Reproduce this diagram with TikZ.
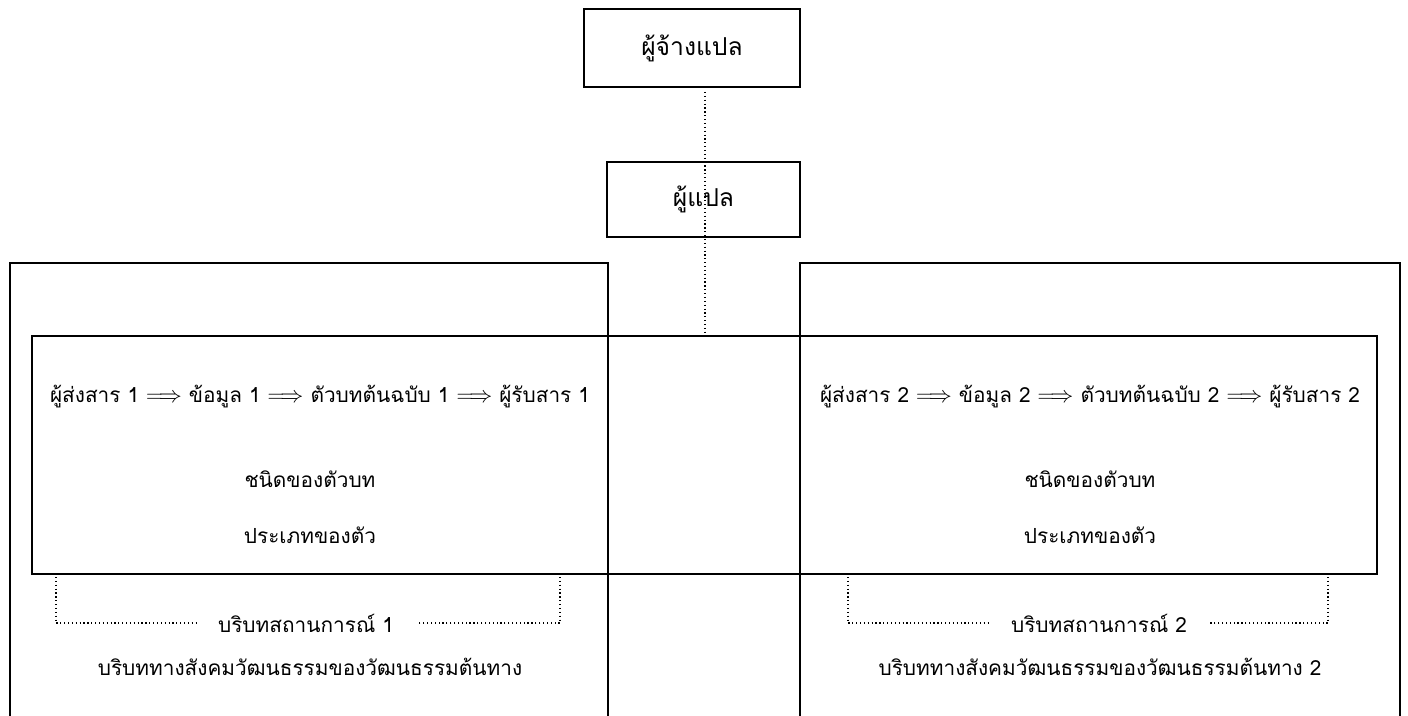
\documentclass[tikz,border=0pt]{standalone}
\usepackage{fontspec}
\setmainfont{Liberation Sans}
\newfontfamily\thaifont[Script=Thai]{Loma}
\newcommand{\darr}{{\fontsize{18}{18}\selectfont$\Longrightarrow$}}
\begin{document}
\begin{tikzpicture}[x=0.75pt,y=-0.75pt,
  box/.style={draw,line width=1.1pt,inner sep=0pt},
  frame/.style={line width=1.1pt},
  dots/.style={dotted,line width=0.9pt},
  txt/.style={font=\thaifont\fontsize{15.6}{18}\selectfont,inner sep=0pt},
  bigtxt/.style={font=\thaifont\fontsize{18.5}{21}\selectfont,inner sep=0pt}]
\useasboundingbox (0,0) rectangle (1408,716);
% top boxes
\node[box,bigtxt,minimum width=216*0.75pt,minimum height=78*0.75pt] (client) at (692,48) {ผู้จ้างแปล};
\node[box,bigtxt,minimum width=193*0.75pt,minimum height=75*0.75pt] (translator) at (703.5,199.5) {ผู้แปล};
% big frames (open at bottom)
\draw[frame] (10,716) -- (10,263) -- (608,263) -- (608,716);
\draw[frame] (800,716) -- (800,263) -- (1400,263) -- (1400,716);
% middle box
\node[box,minimum width=1345*0.75pt,minimum height=238*0.75pt] (mid) at (704.5,455) {};
% dotted connector
\coordinate (ctop) at (705,92);
\draw[dots] (ctop) -- (705,338);
% texts left
\node[txt] (row1) at (320,397) {ผู้ส่งสาร 1 \darr\ ข้อมูล 1 \darr\ ตัวบทต้นฉบับ 1 \darr\ ผู้รับสาร 1};
\node[txt] (kind1) at (310,479) {ชนิดของตัวบท};
\node[txt] (type1) at (310,535) {ประเภทของตัว};
\node[txt] (ctx1) at (306,623) {บริบทสถานการณ์ 1};
\node[txt] (soc1) at (310,667) {บริบททางสังคมวัฒนธรรมของวัฒนธรรมต้นทาง};
% texts right
\node[txt] (row2) at (1090,397) {ผู้ส่งสาร 2 \darr\ ข้อมูล 2 \darr\ ตัวบทต้นฉบับ 2 \darr\ ผู้รับสาร 2};
\node[txt] (kind2) at (1090,479) {ชนิดของตัวบท};
\node[txt] (type2) at (1090,535) {ประเภทของตัว};
\node[txt] (ctx2) at (1099,623) {บริบทสถานการณ์ 2};
\node[txt] (soc2) at (1100,667) {บริบททางสังคมวัฒนธรรมของวัฒนธรรมต้นทาง 2};
% brackets
\coordinate (b1a) at (56,577);
\coordinate (b1b) at (560,577);
\coordinate (b2a) at (848,577);
\coordinate (b2b) at (1328,577);
\draw[dots] (b1a) -- (56,623) -- (197,623);
\draw[dots] (b1b) -- (560,623) -- (417,623);
\draw[dots] (b2a) -- (848,623) -- (989,623);
\draw[dots] (b2b) -- (1328,623) -- (1208,623);
\end{tikzpicture}
\end{document}
